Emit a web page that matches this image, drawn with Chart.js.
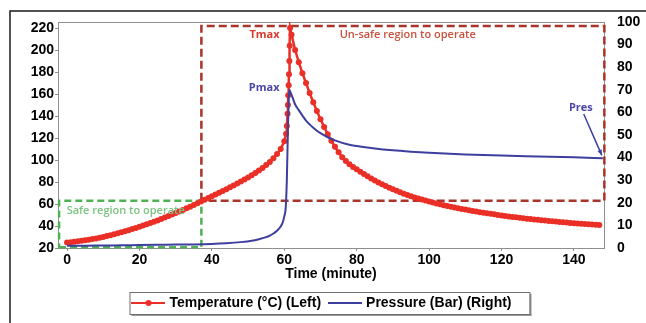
<!DOCTYPE html>
<html>
<head>
<meta charset="utf-8">
<script src="https://cdn.jsdelivr.net/npm/chart.js@4.4.1/dist/chart.umd.min.js"></script>
<style>
  html, body { margin: 0; padding: 0; background: #fff; }
</style>
</head>
<body>
<canvas id="chart" width="646" height="323"></canvas>
<script>
// Values (time in minutes)
const tempTime = [
    0, 1, 2, 3, 4, 5, 6, 7, 8, 9,
    10, 11, 12, 13, 14, 15, 16, 17, 18, 19,
    20, 21, 22, 23, 24, 25, 26, 27, 28, 29,
    30, 31, 32, 33, 34, 35, 36, 37, 38, 39,
    40, 41, 42, 43, 44, 45, 46, 47, 48, 49,
    50, 51, 52, 53, 54, 55, 56, 57, 58, 59,
    60, 60.5, 60.7, 60.9, 61.0, 61.1, 61.2, 61.3, 61.4, 61.5, 61.6,
    62, 63, 64, 65, 66, 67, 68, 69, 70, 71,
    72, 73, 74, 75, 76, 77, 78, 79, 80, 81,
    82, 83, 84, 85, 86, 87, 88, 89, 90, 91,
    92, 93, 94, 95, 96, 97, 98, 99, 100, 101,
    102, 103, 104, 105, 106, 107, 108, 109, 110, 111,
    112, 113, 114, 115, 116, 117, 118, 119, 120, 121,
    122, 123, 124, 125, 126, 127, 128, 129, 130, 131,
    132, 133, 134, 135, 136, 137, 138, 139, 140, 141,
    142, 143, 144, 145, 146, 147
];
const tempValues = [
    25.0, 25.3, 25.7, 26.1, 26.5, 27.0, 27.5, 28.1, 28.7, 29.4,
    30.1, 30.9, 31.7, 32.5, 33.4, 34.3, 35.2, 36.2, 37.2, 38.2,
    39.3, 40.4, 41.5, 42.7, 43.9, 45.1, 46.4, 47.7, 49.0, 50.4,
    51.8, 53.2, 54.6, 56.1, 57.6, 59.1, 60.6, 62.2, 63.8, 65.4,
    67.0, 68.6, 70.2, 71.8, 73.5, 75.2, 76.9, 78.6, 80.4, 82.2,
    84.1, 86.1, 88.2, 90.4, 92.8, 95.4, 98.3, 101.6, 105.4, 110.0,
    117.0, 124, 131, 142, 150, 159, 168, 178, 190, 204, 220,
    214, 200, 189, 179, 170, 161, 152.5, 144.5, 137, 130,
    123.5, 117.5, 112, 107, 102.5, 99, 96.2, 93.7, 91.5, 89.3,
    87.2, 85.2, 83.3, 81.4, 79.6, 77.9, 76.3, 74.8, 73.4, 72.0,
    70.7, 69.4, 68.2, 67.1, 66.0, 65.0, 64.0, 63.1, 62.2, 61.3,
    60.5, 59.7, 58.9, 58.2, 57.5, 56.8, 56.1, 55.5, 54.9, 54.3,
    53.7, 53.2, 52.6, 52.1, 51.6, 51.1, 50.6, 50.1, 49.6, 49.1,
    48.7, 48.3, 47.9, 47.5, 47.1, 46.7, 46.3, 46.0, 45.6, 45.3,
    45.0, 44.6, 44.3, 44.0, 43.7, 43.4, 43.1, 42.8, 42.5, 42.3,
    42.0, 41.8, 41.5, 41.3, 41.1, 40.9
];

const pressTime = [
    0, 5, 10, 15, 20, 25, 30, 35, 40, 44, 48, 51, 53, 55, 56, 57, 58, 59, 59.5, 60,
    60.4, 60.7, 61.0, 61.2, 61.4, 61.8, 62.3, 63, 64, 65, 66, 67, 68, 69, 70,
    72, 74, 76, 78, 80, 85, 90, 95, 100, 110, 120, 130, 140, 148
];
const pressValues = [
    1.0, 1.0, 1.1, 1.2, 1.3, 1.4, 1.5, 1.6, 1.8, 2.1, 2.6, 3.2, 3.9, 4.8, 5.5, 6.4, 7.6, 9.5, 11, 14,
    18, 30, 52, 65, 70, 68.5, 66.5, 63.5, 61, 58.6, 56.4, 54.7, 53.2, 51.9, 50.8,
    49.0, 47.6, 46.5, 45.7, 45.1, 44.0, 43.2, 42.6, 42.1, 41.4, 40.9, 40.5, 40.1, 39.7
];

const timeTicks = [0, 20, 40, 60, 80, 100, 120, 140];
const tempTicks = [20, 40, 60, 80, 100, 120, 140, 160, 180, 200, 220];
const pressTicks = [0, 10, 20, 30, 40, 50, 60, 70, 80, 90, 100];

// operating regions (time, temperature)
const safeBoxTime = [-2.2, 37.1, 37.1, -2.2, -2.2];
const safeBoxTemp = [20.6, 20.6, 63, 63, 20.6];
const unsafeBoxTime = [37.1, 37.1, 148.4, 148.4, 37.1];
const unsafeBoxTemp = [63, 221.8, 221.8, 63, 63];

const RED = '#ea2f26';
const BLUE = '#3d3f9f';

function toPoints(xs, ys) {
    return xs.map((x, i) => ({ x: x, y: ys[i] }));
}

// small line / line+dot pictures for the legend
function legendMark(color, width, dot) {
    const c = document.createElement('canvas');
    c.width = 34;
    c.height = 8;
    const g = c.getContext('2d');
    g.strokeStyle = color;
    g.lineWidth = width;
    g.beginPath();
    g.moveTo(0, 4);
    g.lineTo(34, 4);
    g.stroke();
    if (dot) {
        g.fillStyle = color;
        g.beginPath();
        g.arc(17, 4, 3, 0, Math.PI * 2);
        g.fill();
    }
    return c;
}
const legendMarks = [legendMark(RED, 2, true), legendMark(BLUE, 2, false)];

// text notes placed in axis units
const notes = [
    { text: 'Tmax', x: 58.7, y: 213.6, axis: 'yT', align: 'right', color: '#d9382c', weight: 'bold' },
    { text: 'Un-safe region to operate', x: 75.3, y: 213.6, axis: 'yT', align: 'left', color: '#c9513c', weight: '600' },
    { text: 'Safe region to operate', x: -0.1, y: 53.6, axis: 'yT', align: 'left', color: '#7cc27f', weight: '600' },
    { text: 'Pmax', x: 58.7, y: 70.8, axis: 'yP', align: 'right', color: '#4a46a8', weight: 'bold' },
    { text: 'Pres', x: 141.9, y: 62.1, axis: 'yP', align: 'center', color: '#4a46a8', weight: 'bold' }
];
const presArrow = { x1: 142.7, y1: 59.3, x2: 147.7, y2: 41 };

const decorPlugin = {
    id: 'decor',
    beforeDraw(chart) {
        const ctx = chart.ctx;
        ctx.save();
        ctx.fillStyle = '#fff';
        ctx.fillRect(0, 0, chart.width, chart.height);
        // outer frame (top and left edge)
        ctx.strokeStyle = '#1a1a1a';
        ctx.lineWidth = 1.5;
        ctx.beginPath();
        ctx.moveTo(10, chart.height);
        ctx.lineTo(10, 11);
        ctx.lineTo(chart.width, 11);
        ctx.stroke();
        ctx.restore();
    },
    beforeDatasetsDraw(chart) {
        const a = chart.chartArea;
        const ctx = chart.ctx;
        ctx.save();
        ctx.strokeStyle = '#8f8f8f';
        ctx.lineWidth = 1;
        ctx.strokeRect(a.left + 0.5, a.top + 0.5, a.right - a.left, a.bottom - a.top);
        ctx.restore();
    },
    afterDatasetsDraw(chart) {
        const ctx = chart.ctx;
        const sx = chart.scales.x;
        ctx.save();
        ctx.textBaseline = 'middle';
        notes.forEach(n => {
            ctx.font = n.weight + ' 11px "Open Sans"';
            ctx.fillStyle = n.color;
            ctx.textAlign = n.align;
            ctx.fillText(n.text, sx.getPixelForValue(n.x), chart.scales[n.axis].getPixelForValue(n.y));
        });
        // arrow pointing at the residual pressure
        const yp = chart.scales.yP;
        const x1 = sx.getPixelForValue(presArrow.x1), y1 = yp.getPixelForValue(presArrow.y1);
        const x2 = sx.getPixelForValue(presArrow.x2), y2 = yp.getPixelForValue(presArrow.y2);
        ctx.strokeStyle = BLUE;
        ctx.fillStyle = BLUE;
        ctx.lineWidth = 1.5;
        ctx.beginPath();
        ctx.moveTo(x1, y1);
        ctx.lineTo(x2, y2);
        ctx.stroke();
        const ang = Math.atan2(y2 - y1, x2 - x1);
        ctx.beginPath();
        ctx.moveTo(x2, y2);
        ctx.lineTo(x2 - 6 * Math.cos(ang - 0.4), y2 - 6 * Math.sin(ang - 0.4));
        ctx.lineTo(x2 - 6 * Math.cos(ang + 0.4), y2 - 6 * Math.sin(ang + 0.4));
        ctx.closePath();
        ctx.fill();
        ctx.restore();
    },
    afterDraw(chart) {
        // frame round the legend
        const boxes = chart.legend.legendHitBoxes;
        if (!boxes || !boxes.length) return;
        const first = boxes[0];
        const last = boxes[boxes.length - 1];
        const left = first.left - 5;
        const right = last.left + last.width + 18;
        const top = first.top - 4;
        const bottom = first.top + first.height + 4;
        const ctx = chart.ctx;
        ctx.save();
        ctx.fillStyle = '#9a9a9a';
        ctx.fillRect(left + 2, bottom, right - left, 2);
        ctx.fillRect(right, top + 2, 2, bottom - top);
        ctx.strokeStyle = '#6f6f6f';
        ctx.lineWidth = 1;
        ctx.strokeRect(left + 0.5, top + 0.5, right - left, bottom - top);
        ctx.restore();
    }
};

Chart.defaults.color = '#000';
Chart.defaults.font.family = '"Liberation Sans", Arial, sans-serif';

const tickFont = { size: 14, weight: 'bold' };

new Chart(document.getElementById('chart'), {
    type: 'line',
    data: {
        datasets: [
            {
                label: 'Temperature (°C) (Left)',
                data: toPoints(tempTime, tempValues),
                yAxisID: 'yT',
                borderColor: RED,
                backgroundColor: RED,
                borderWidth: 2.5,
                pointRadius: 3,
                pointBorderWidth: 0,
                tension: 0,
                order: 2
            },
            {
                label: 'Pressure (Bar) (Right)',
                data: toPoints(pressTime, pressValues),
                yAxisID: 'yP',
                borderColor: BLUE,
                backgroundColor: BLUE,
                borderWidth: 2,
                pointRadius: 0,
                cubicInterpolationMode: 'monotone',
                order: 1
            },
            {
                label: 'safe',
                data: toPoints(safeBoxTime, safeBoxTemp),
                yAxisID: 'yT',
                borderColor: '#4fb153',
                borderWidth: 2.5,
                borderDash: [7, 4],
                pointRadius: 0,
                clip: false,
                order: 3
            },
            {
                label: 'unsafe',
                data: toPoints(unsafeBoxTime, unsafeBoxTemp),
                yAxisID: 'yT',
                borderColor: '#a8342b',
                borderWidth: 2.5,
                borderDash: [8, 4],
                pointRadius: 0,
                clip: false,
                order: 3
            }
        ]
    },
    options: {
        responsive: false,
        animation: false,
        devicePixelRatio: 1,
        layout: {
            autoPadding: false,
            padding: { top: 22, bottom: 3, left: 0, right: 0 }
        },
        plugins: {
            tooltip: { enabled: false },
            legend: {
                position: 'bottom',
                labels: {
                    usePointStyle: true,
                    pointStyleWidth: 28,
                    padding: 10,
                    font: { size: 14, weight: 'bold' },
                    generateLabels: chart => [0, 1].map(i => ({
                        text: chart.data.datasets[i].label,
                        pointStyle: legendMarks[i],
                        fontColor: '#000',
                        fillStyle: 'transparent',
                        strokeStyle: 'transparent',
                        lineWidth: 0,
                        hidden: false,
                        datasetIndex: i
                    }))
                }
            }
        },
        scales: {
            x: {
                type: 'linear',
                min: -2.5,
                max: 148.3,
                afterBuildTicks: s => { s.ticks = timeTicks.map(v => ({ value: v })); },
                afterFit: s => { s.height = 38; },
                border: { display: false },
                grid: { drawOnChartArea: false, tickLength: 3, color: '#8f8f8f' },
                ticks: { font: tickFont, padding: 1, maxRotation: 0, autoSkip: false },
                title: {
                    display: true,
                    text: 'Time (minute)',
                    font: { size: 14, weight: 'bold' },
                    padding: { top: 0, bottom: 3 }
                }
            },
            yT: {
                position: 'left',
                min: 20,
                max: 225.5,
                afterBuildTicks: s => { s.ticks = tempTicks.map(v => ({ value: v })); },
                afterFit: s => { s.width = 58; },
                border: { display: false },
                grid: { drawOnChartArea: false, tickLength: 3, color: '#8f8f8f' },
                ticks: { font: tickFont, padding: 1 }
            },
            yP: {
                position: 'right',
                min: 0,
                max: 100,
                afterBuildTicks: s => { s.ticks = pressTicks.map(v => ({ value: v })); },
                afterFit: s => { s.width = 42; },
                border: { display: false },
                grid: { drawOnChartArea: false, drawTicks: false },
                ticks: { font: tickFont, padding: 13 }
            }
        }
    },
    plugins: [decorPlugin]
});
</script>
</body>
</html>
